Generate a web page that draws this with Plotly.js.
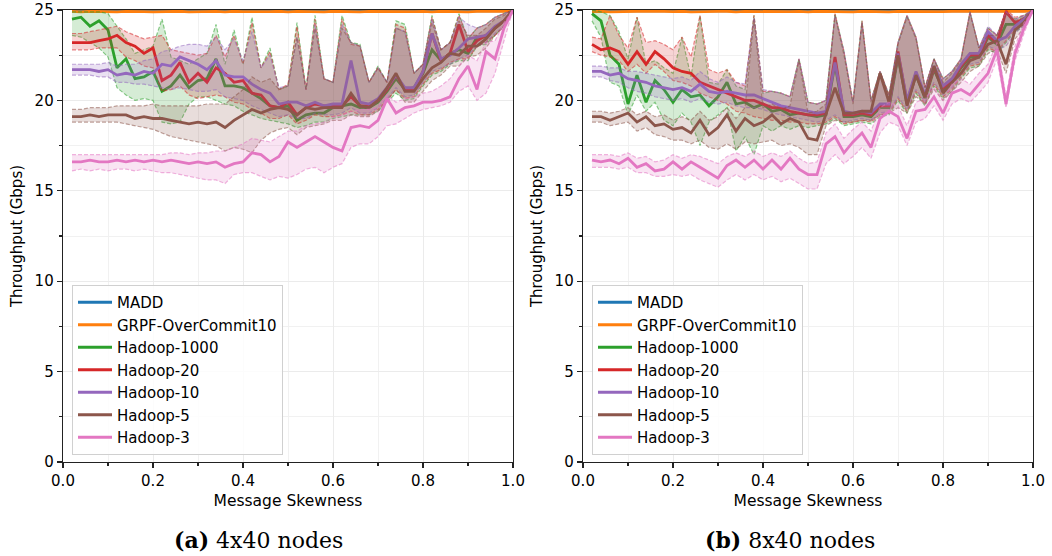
<!DOCTYPE html>
<html>
<head>
<meta charset="utf-8">
<script src="https://cdn.plot.ly/plotly-3.0.1.min.js"></script>
<style>html,body{margin:0;padding:0;background:#fff;}#chart{width:1052px;height:556px;}</style>
</head>
<body>
<div id="chart"></div>
<script>
// ---------- data ----------
const skew = [0.02,0.04,0.06,0.08,0.10,0.12,0.14,0.16,0.18,0.20,0.22,0.24,0.26,0.28,0.30,0.32,0.34,0.36,0.38,0.40,0.42,0.44,0.46,0.48,0.50,0.52,0.54,0.56,0.58,0.60,0.62,0.64,0.66,0.68,0.70,0.72,0.74,0.76,0.78,0.80,0.82,0.84,0.86,0.88,0.90,0.92,0.94,0.96,0.98,1.00];
const seriesNames = ["MADD","GRPF-OverCommit10","Hadoop-1000","Hadoop-20","Hadoop-10","Hadoop-5","Hadoop-3"];
const captions = ["<b>(a)</b> 4x40 nodes", "<b>(b)</b> 8x40 nodes"];

// (a) 4x40 nodes
const a_madd = [24.95,24.95,24.95,24.95,24.95,24.95,24.95,24.95,24.95,24.95,24.95,24.95,24.95,24.95,24.95,24.95,24.95,24.95,24.95,24.95,24.95,24.95,24.95,24.95,24.95,24.95,24.95,24.95,24.95,24.95,24.95,24.95,24.95,24.95,24.95,24.95,24.95,24.95,24.95,24.95,24.95,24.95,24.95,24.95,24.95,24.95,24.95,24.95,24.95,24.95];
const a_grpf = [24.92,24.9,24.93,24.91,24.92,24.9,24.92,24.93,24.91,24.9,24.92,24.91,24.93,24.9,24.92,24.91,24.92,24.9,24.93,24.91,24.9,24.92,24.91,24.93,24.9,24.92,24.91,24.92,24.9,24.93,24.91,24.92,24.9,24.92,24.91,24.93,24.9,24.92,24.91,24.92,24.9,24.93,24.91,24.92,24.9,24.92,24.91,24.93,24.92,24.95];
const a_h1000 = [24.5,24.6,24.1,24.4,23.9,21.8,22.3,21.2,21.3,21.6,20.5,20.8,21.4,20.7,21.1,21.2,22.3,20.8,20.8,20.7,20.4,20.1,19.7,19.6,19.7,18.9,19.2,19.3,19.3,19.6,19.7,19.8,19.6,19.6,19.9,20.5,21.2,20.6,20.7,21.5,22.8,22.2,22.6,22.8,22.6,23.5,23.5,24.0,24.4,25.0];
const a_h1000_lo = [23.6,23.5,23.2,22.9,22.4,20.7,20.3,20.0,20.1,20.0,18.8,18.7,18.8,19.8,20.2,20.2,20.0,19.8,19.7,19.4,19.2,19.0,18.9,18.8,18.7,18.5,18.6,18.8,18.8,19.0,19.1,19.2,19.2,19.2,19.4,19.9,20.4,20.0,20.1,20.8,21.4,21.6,22.0,22.2,22.2,23.0,23.1,23.6,24.1,25.0];
const a_h1000_hi = [24.9,24.9,24.9,24.9,24.8,24.1,23.4,22.6,22.8,23.0,24.5,22.4,22.2,22.0,22.3,22.6,24.2,22.0,23.9,22.0,24.6,21.8,22.9,20.6,20.8,24.3,20.6,24.7,21.2,21.0,24.7,23.2,23.1,21.0,21.9,21.0,24.4,24.2,21.5,22.0,24.7,22.8,23.2,24.8,23.4,24.0,24.2,24.6,24.8,25.0];
const a_h20 = [23.2,23.2,23.2,23.3,23.4,23.6,23.2,23.0,22.6,22.9,21.1,21.4,22.1,21.0,21.5,21.0,21.8,21.5,21.0,21.1,20.4,20.3,19.7,19.6,19.9,19.2,19.6,19.8,19.7,19.7,19.7,20.2,19.7,19.7,20.0,20.6,21.4,20.6,20.6,21.6,23.7,22.2,22.6,24.2,22.7,23.3,23.6,24.0,24.4,25.0];
const a_h20_lo = [22.8,22.8,22.8,22.9,22.9,22.9,22.4,22.2,21.9,21.8,20.5,20.6,20.8,20.3,20.1,20.2,20.3,20.2,19.9,19.8,19.5,19.3,19.0,19.0,19.2,18.7,18.9,19.2,19.1,19.1,19.2,19.4,19.2,19.2,19.5,20.0,20.6,20.1,20.2,20.9,21.5,21.7,22.1,22.3,22.3,23.0,23.2,23.6,24.1,25.0];
const a_h20_hi = [23.7,23.7,23.8,23.9,24.0,24.1,23.8,23.6,23.4,23.5,23.6,22.8,22.7,22.6,22.5,22.6,23.6,22.4,23.6,22.0,24.3,21.8,22.7,20.6,20.9,24.1,20.6,24.5,21.2,21.0,24.5,23.1,23.0,21.0,21.8,21.0,24.2,24.0,21.5,22.0,24.6,22.8,23.2,24.7,23.4,24.0,24.2,24.6,24.8,25.0];
const a_h10 = [21.7,21.7,21.7,21.6,21.7,21.4,21.5,21.4,21.6,21.5,22.0,21.9,22.4,22.2,22.0,21.7,22.2,21.4,21.3,21.3,20.9,20.6,20.4,19.8,19.9,19.9,19.7,19.9,19.7,19.8,19.8,22.2,19.9,19.8,20.1,20.7,21.4,20.7,20.7,21.6,23.7,22.3,22.5,22.9,23.4,23.5,23.6,24.1,24.4,25.0];
const a_h10_lo = [21.4,21.4,21.4,21.3,21.3,21.0,21.0,20.9,20.9,20.8,20.7,20.6,20.7,20.6,20.5,20.5,20.6,20.2,20.1,20.0,19.7,19.5,19.3,19.1,19.2,19.0,19.0,19.3,19.2,19.2,19.3,19.6,19.3,19.3,19.6,20.1,20.7,20.2,20.3,21.0,21.6,21.8,22.0,22.3,22.5,23.0,23.2,23.7,24.1,25.0];
const a_h10_hi = [22.0,22.0,22.0,22.0,22.1,21.9,22.0,22.0,22.2,22.3,22.7,22.8,23.0,23.1,23.1,23.0,23.5,22.8,23.4,22.2,23.8,21.8,22.5,20.7,20.8,23.5,20.6,24.2,21.2,21.0,24.2,23.2,23.0,21.0,21.8,21.0,24.0,23.8,21.5,22.0,24.5,22.8,23.2,24.6,24.2,24.0,24.2,24.6,24.8,25.0];
const a_h5 = [19.1,19.1,19.2,19.1,19.2,19.2,19.2,19.0,19.1,19.0,19.0,18.9,18.8,18.7,18.8,18.7,18.8,18.5,18.9,19.2,19.5,19.3,19.5,19.6,19.5,19.2,19.6,19.5,19.6,19.6,19.6,20.4,19.7,19.6,20.0,20.7,21.5,20.5,20.5,21.2,21.8,22.1,22.6,22.5,23.0,23.0,23.4,24.0,24.4,25.0];
const a_h5_lo = [18.8,18.8,18.8,18.8,18.8,18.8,18.7,18.6,18.5,18.4,18.2,18.0,17.9,17.8,17.7,17.6,17.5,17.2,17.4,17.3,17.1,17.8,18.2,18.4,18.5,18.1,18.5,18.6,18.7,18.9,18.9,19.2,19.1,19.1,19.4,20.0,20.6,19.9,19.9,20.5,21.1,21.4,21.9,21.9,22.4,22.5,22.9,23.6,24.1,25.0];
const a_h5_hi = [19.5,19.5,19.6,19.6,19.6,19.7,19.7,19.7,19.7,19.8,19.7,19.7,19.7,19.7,19.7,19.8,19.8,19.8,20.2,20.6,21.3,21.0,21.2,20.6,20.8,23.5,20.6,24.0,21.2,21.0,24.0,23.2,23.0,21.0,21.8,21.0,24.0,23.8,21.5,22.0,24.3,22.8,23.2,24.4,23.6,23.6,24.0,24.5,24.7,25.0];
const a_h3 = [16.6,16.6,16.7,16.6,16.6,16.7,16.6,16.7,16.6,16.7,16.6,16.7,16.6,16.5,16.6,16.5,16.6,16.3,16.5,16.6,17.1,17.0,16.6,16.9,17.7,17.4,17.7,18.0,17.7,17.4,17.2,18.5,18.6,18.5,18.9,20.1,19.3,19.6,19.7,19.9,19.9,20.0,20.2,21.2,21.9,20.6,22.7,22.3,24.0,25.0];
const a_h3_lo = [16.1,16.2,16.1,16.2,16.1,16.2,16.2,16.1,16.2,16.1,16.0,16.0,15.9,15.8,15.7,15.6,15.6,15.4,15.9,16.0,16.0,15.8,15.6,15.8,15.7,15.9,16.2,16.3,16.0,16.3,16.5,17.4,17.6,17.6,18.0,18.6,18.7,19.0,19.3,19.5,19.6,19.7,19.9,20.5,20.8,20.0,20.4,21.5,23.3,25.0];
const a_h3_hi = [17.0,17.0,17.0,17.0,17.0,17.0,17.0,17.0,17.0,17.0,17.0,17.1,17.1,17.0,17.1,17.1,17.2,17.2,17.4,17.6,17.9,17.8,17.7,18.0,18.3,18.3,18.6,18.7,18.8,19.1,19.2,19.4,19.5,19.5,19.6,20.3,19.9,20.1,20.2,20.4,20.5,20.8,21.2,21.9,22.5,22.2,23.2,23.3,24.3,25.0];

// (b) 8x40 nodes
const b_madd = [24.95,24.95,24.95,24.95,24.95,24.95,24.95,24.95,24.95,24.95,24.95,24.95,24.95,24.95,24.95,24.95,24.95,24.95,24.95,24.95,24.95,24.95,24.95,24.95,24.95,24.95,24.95,24.95,24.95,24.95,24.95,24.95,24.95,24.95,24.95,24.95,24.95,24.95,24.95,24.95,24.95,24.95,24.95,24.95,24.95,24.95,24.95,24.95,24.95,24.95];
const b_grpf = [24.91,24.93,24.9,24.92,24.91,24.93,24.92,24.9,24.92,24.91,24.93,24.9,24.92,24.91,24.92,24.93,24.9,24.92,24.91,24.92,24.93,24.9,24.91,24.92,24.9,24.93,24.92,24.91,24.92,24.9,24.93,24.91,24.92,24.9,24.92,24.91,24.93,24.92,24.9,24.91,24.93,24.92,24.9,24.91,24.92,24.93,24.92,24.91,24.93,24.95];
const b_h1000 = [24.8,24.4,22.5,22.0,19.8,21.4,19.9,21.1,20.6,19.9,20.6,20.2,20.3,19.7,20.2,21.0,19.8,19.9,19.6,19.8,19.4,19.5,19.2,19.3,19.2,19.1,19.2,22.0,19.1,19.1,19.2,19.1,19.6,19.6,22.4,19.8,21.4,20.1,21.7,20.6,21.0,21.8,22.4,22.4,23.5,23.1,24.2,24.2,24.4,25.0];
const b_h1000_lo = [24.4,23.5,21.0,20.8,19.2,20.3,19.4,19.9,18.9,18.6,19.3,18.8,17.5,18.8,19.2,19.6,17.2,18.0,17.0,18.6,18.3,18.6,18.4,18.6,18.5,18.6,18.7,19.0,18.6,18.7,18.8,18.7,19.1,19.2,20.0,19.3,20.4,19.7,20.8,20.1,20.5,21.2,21.8,21.9,22.8,22.6,23.2,23.8,24.1,25.0];
const b_h1000_hi = [25.0,24.9,24.7,23.8,22.3,24.6,22.0,22.2,21.8,21.5,23.5,21.3,24.7,21.0,20.9,21.7,20.8,20.6,24.7,20.4,20.5,20.4,20.2,22.3,19.9,19.8,20.0,24.8,22.7,19.9,24.4,20.0,21.6,20.3,23.2,24.7,23.5,20.7,22.3,21.2,21.6,22.3,24.9,22.9,24.0,23.6,24.9,24.5,24.7,25.0];
const b_h20 = [23.1,22.8,22.9,22.7,22.0,22.7,22.0,22.7,22.3,21.8,21.6,21.5,21.0,20.8,20.6,20.4,20.2,20.0,20.0,19.8,19.6,19.6,19.4,19.3,19.2,19.2,19.3,22.4,19.2,19.2,19.3,19.2,19.7,19.7,22.7,19.9,21.5,20.2,21.8,20.7,21.1,21.9,22.5,22.5,23.6,23.2,24.9,24.3,24.5,25.0];
const b_h20_lo = [22.7,22.5,22.4,22.2,21.6,22.0,21.5,22.0,21.6,21.1,21.0,20.8,20.4,20.2,20.0,19.8,19.4,19.3,19.1,19.0,18.9,18.9,18.8,18.8,18.7,18.7,18.8,19.1,18.7,18.8,18.9,18.8,19.2,19.3,20.1,19.4,20.5,19.8,20.9,20.2,20.6,21.3,21.9,22.0,22.9,22.7,23.3,23.9,24.2,25.0];
const b_h20_hi = [23.5,23.4,24.7,23.6,22.9,24.6,23.2,23.3,23.1,22.8,23.5,22.4,24.7,21.7,21.5,21.7,21.0,20.8,24.7,20.5,20.5,20.4,20.2,22.3,19.9,19.8,20.0,24.8,22.7,19.9,24.4,20.0,21.6,20.3,23.2,24.7,23.5,20.7,22.3,21.2,21.6,22.3,24.9,22.9,24.0,23.6,25.0,24.6,24.7,25.0];
const b_h10 = [21.6,21.6,21.4,21.5,21.2,21.1,21.0,20.8,20.7,20.6,20.7,20.5,20.9,20.5,20.4,20.5,20.4,20.3,20.3,20.1,19.9,19.7,19.6,19.5,19.4,19.3,19.4,22.1,19.4,19.3,19.4,19.3,19.8,19.8,22.6,20.0,21.6,20.3,21.9,20.8,21.2,22.0,22.6,22.6,23.8,23.3,23.5,24.1,24.5,25.0];
const b_h10_lo = [21.3,21.3,21.1,21.0,20.7,20.5,20.4,20.2,20.1,20.0,20.1,19.9,20.1,19.9,19.8,19.9,19.7,19.6,19.6,19.5,19.3,19.2,19.1,19.0,18.9,18.8,18.9,19.2,18.8,18.9,19.0,18.9,19.3,19.4,20.2,19.5,20.6,19.9,21.0,20.3,20.7,21.4,22.0,22.1,23.0,22.8,23.0,23.7,24.2,25.0];
const b_h10_hi = [21.9,21.9,21.8,21.8,21.6,21.6,21.5,21.4,21.3,21.2,21.3,21.1,21.6,21.2,21.0,21.3,21.0,20.9,24.6,20.6,20.5,20.4,20.2,22.3,19.9,19.8,20.0,24.7,22.7,19.9,24.3,20.0,21.6,20.3,23.2,24.7,23.5,20.7,22.3,21.2,21.6,22.3,24.9,22.9,24.1,23.6,24.9,24.5,24.7,25.0];
const b_h5 = [19.1,19.1,18.9,19.1,19.3,18.8,19.1,18.6,18.7,18.4,18.5,18.2,18.9,18.1,18.5,19.2,18.3,19.0,18.6,18.8,19.2,18.7,19.0,18.8,17.9,17.8,19.2,20.7,19.3,19.3,19.4,19.4,21.5,19.9,22.5,19.7,21.4,20.2,21.9,20.4,21.0,21.5,22.2,22.4,23.1,23.3,22.0,23.9,24.3,25.0];
const b_h5_lo = [18.8,18.8,18.6,18.7,18.8,18.3,18.5,18.1,18.0,17.8,17.8,17.6,17.8,17.4,17.3,17.6,17.3,17.7,17.6,17.7,17.8,17.5,17.6,17.4,17.0,17.0,18.6,18.9,18.8,18.8,18.9,18.9,19.2,19.3,19.6,19.3,20.2,19.8,20.6,20.0,20.5,21.0,21.6,21.9,22.6,22.8,21.5,23.4,24.0,25.0];
const b_h5_hi = [19.4,19.4,19.3,19.4,19.6,19.2,19.4,19.1,19.2,18.9,19.1,18.9,19.4,18.9,19.1,19.6,19.0,19.6,24.5,19.6,19.8,19.5,19.7,22.2,19.3,19.4,19.8,24.7,22.5,19.8,24.3,19.9,21.6,20.3,23.1,24.6,23.4,20.7,22.3,21.0,21.5,22.2,24.8,22.9,23.6,23.6,24.8,24.4,24.6,25.0];
const b_h3 = [16.7,16.6,16.7,16.5,16.8,16.3,16.5,16.1,16.2,16.6,16.2,16.6,16.3,16.0,15.7,16.4,16.7,16.3,16.7,16.2,16.7,16.2,16.8,16.2,15.9,15.9,17.6,18.0,17.1,17.7,18.2,17.4,19.0,19.4,19.1,17.9,19.4,19.5,20.2,19.3,20.4,20.6,20.3,20.9,21.5,22.8,19.8,22.6,24.0,25.0];
const b_h3_lo = [16.3,16.3,16.3,16.2,16.3,16.0,16.0,15.8,15.8,15.9,15.8,15.9,15.6,15.4,15.2,15.6,15.9,15.6,15.9,15.6,15.8,15.5,15.7,15.4,15.1,15.1,16.5,17.0,16.5,16.9,17.4,16.8,18.2,18.8,18.6,17.5,18.8,19.0,19.7,18.9,19.8,20.1,19.9,20.4,21.0,22.3,19.6,22.2,23.7,25.0];
const b_h3_hi = [17.0,17.0,17.0,16.9,17.1,16.8,16.9,16.6,16.7,17.0,16.8,17.0,16.9,16.7,16.5,16.9,17.1,16.9,17.2,16.9,17.1,16.9,17.2,16.8,16.5,16.6,18.2,18.7,17.9,18.4,18.8,18.3,19.6,19.9,19.7,18.6,19.9,20.1,20.7,20.0,20.9,21.2,20.9,21.5,22.0,23.2,20.2,23.0,24.3,25.0];

// ---------- styling ----------
const colors = ["#1f77b4","#ff7f0e","#2ca02c","#d62728","#9467bd","#8c564b","#e377c2"];
function rgba(hex, a){
  const n = parseInt(hex.slice(1),16);
  return `rgba(${(n>>16)&255},${(n>>8)&255},${n&255},${a})`;
}
const W = 1052, H = 556;
const panels = [
  {xa:'x', ya:'y', legend:'legend', plain:[a_madd,a_grpf],
   bands:[[a_h1000,a_h1000_lo,a_h1000_hi],[a_h20,a_h20_lo,a_h20_hi],[a_h10,a_h10_lo,a_h10_hi],[a_h5,a_h5_lo,a_h5_hi],[a_h3,a_h3_lo,a_h3_hi]]},
  {xa:'x2', ya:'y2', legend:'legend2', plain:[b_madd,b_grpf],
   bands:[[b_h1000,b_h1000_lo,b_h1000_hi],[b_h20,b_h20_lo,b_h20_hi],[b_h10,b_h10_lo,b_h10_hi],[b_h5,b_h5_lo,b_h5_hi],[b_h3,b_h3_lo,b_h3_hi]]}
];
const traces = [];
panels.forEach((p, pi) => {
  p.plain.forEach((vals, i) => {
    traces.push({x: skew, y: vals, xaxis: p.xa, yaxis: p.ya, type:'scatter', mode:'lines',
      name: seriesNames[i], legend: p.legend, legendgroup: 'g'+pi+'_'+i,
      line:{color: colors[i], width: 2.8}});
  });
  p.bands.forEach((b, j) => {
    const i = j + 2;
    const c = colors[i];
    const grp = 'g'+pi+'_'+i;
    traces.push({x: skew, y: b[1], xaxis: p.xa, yaxis: p.ya, type:'scatter', mode:'lines',
      showlegend:false, legend: p.legend, legendgroup: grp, hoverinfo:'skip',
      line:{color: rgba(c,0.55), width:1.2, dash:'4px,2px'}});
    traces.push({x: skew, y: b[2], xaxis: p.xa, yaxis: p.ya, type:'scatter', mode:'lines',
      showlegend:false, legend: p.legend, legendgroup: grp, hoverinfo:'skip',
      fill:'tonexty', fillcolor: rgba(c,0.2),
      line:{color: rgba(c,0.55), width:1.2, dash:'4px,2px'}});
    traces.push({x: skew, y: b[0], xaxis: p.xa, yaxis: p.ya, type:'scatter', mode:'lines',
      name: seriesNames[i], legend: p.legend, legendgroup: grp,
      line:{color: c, width: 2.8}});
  });
});

const axisCommon = {
  showline:true, linecolor:'#222', linewidth:1.3, mirror:true,
  ticks:'outside', ticklen:5, tickwidth:1.2, tickcolor:'#222',
  showgrid:true, gridcolor:'#ebebeb', gridwidth:1, zeroline:false,
  tickfont:{family:'DejaVu Sans', size:15, color:'#000'}
};
function xAxis(dom, anchor){
  return Object.assign({}, axisCommon, {domain: dom, anchor: anchor, range:[0,1], tick0:0, dtick:0.2, tickformat:'.1f',
    minor:{dtick:0.1, ticks:'outside', ticklen:3, tickcolor:'#222', showgrid:true, gridcolor:'#f1f1f1'},
    title:{text:'Message Skewness', font:{family:'DejaVu Sans', size:15.5, color:'#000'}, standoff:6}});
}
function yAxis(dom, anchor){
  return Object.assign({}, axisCommon, {domain: dom, anchor: anchor, range:[0,25], tick0:0, dtick:5,
    minor:{dtick:2.5, ticks:'outside', ticklen:3, tickcolor:'#222', showgrid:true, gridcolor:'#f1f1f1'},
    title:{text:'Throughput (Gbps)', font:{family:'DejaVu Sans', size:15, color:'#000'}, standoff:8}});
}
const yDom = [(H-462)/H, (H-10)/H];
function legendAt(px){
  return {x: px/W, y: 1-285/H, xanchor:'left', yanchor:'top', bgcolor:'rgba(255,255,255,0.85)',
    bordercolor:'#d0d0d0', borderwidth:1, traceorder:'grouped', tracegroupgap:0, itemwidth:34,
    font:{family:'DejaVu Sans', size:15, color:'#000'}};
}
const layout = {
  width: W, height: H, margin:{l:0, r:0, t:0, b:0},
  paper_bgcolor:'#fff', plot_bgcolor:'#fff', showlegend:true,
  font:{family:'DejaVu Sans', size:15, color:'#000'},
  xaxis: xAxis([63/W, 513/W], 'y'),
  yaxis: yAxis(yDom, 'x'),
  xaxis2: xAxis([583/W, 1033/W], 'y2'),
  yaxis2: yAxis(yDom, 'x2'),
  legend: legendAt(72),
  legend2: legendAt(592),
  annotations: [
    {text: captions[0], xref:'paper', yref:'paper', x: 258/W, y: (H-540)/H, xanchor:'center', yanchor:'middle', showarrow:false,
     font:{family:'DejaVu Serif', size:22, color:'#000'}},
    {text: captions[1], xref:'paper', yref:'paper', x: 790/W, y: (H-540)/H, xanchor:'center', yanchor:'middle', showarrow:false,
     font:{family:'DejaVu Serif', size:22, color:'#000'}}
  ]
};
Plotly.newPlot('chart', traces, layout, {displayModeBar:false, staticPlot:true});
</script>
</body>
</html>
